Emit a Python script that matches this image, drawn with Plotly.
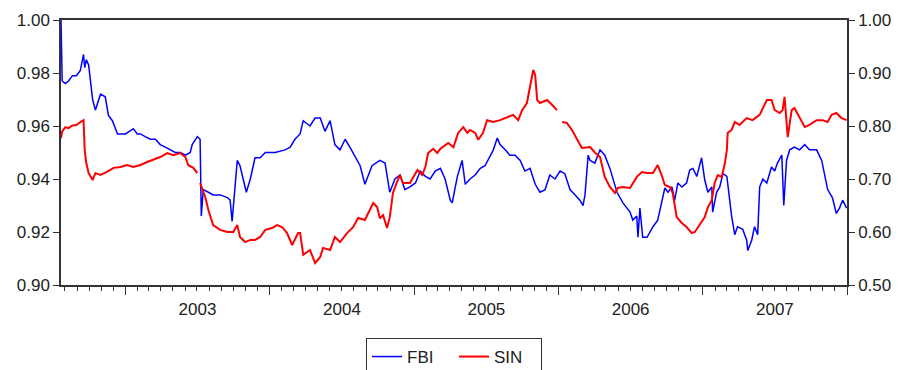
import plotly.graph_objects as go

fbi_dates = [
    "2002-07-22", "2002-07-25", "2002-08-02", "2002-08-10", "2002-08-20", "2002-08-30",
    "2002-09-09", "2002-09-17", "2002-09-20", "2002-09-24", "2002-09-30", "2002-10-05",
    "2002-10-10", "2002-10-17", "2002-10-23", "2002-10-30", "2002-11-11", "2002-11-19",
    "2002-11-29", "2002-12-12", "2002-12-22",
    "2003-01-01", "2003-01-11", "2003-01-21", "2003-01-31", "2003-02-08", "2003-02-20",
    "2003-03-05", "2003-03-18", "2003-03-30", "2003-04-12", "2003-04-25", "2003-05-07",
    "2003-05-20", "2003-06-02", "2003-06-14", "2003-06-19", "2003-07-02", "2003-07-09",
    "2003-07-12", "2003-07-17", "2003-07-30", "2003-08-11", "2003-08-29", "2003-09-16",
    "2003-09-23", "2003-09-28", "2003-10-11", "2003-10-18", "2003-10-26", "2003-11-03",
    "2003-11-13", "2003-11-25", "2003-12-08", "2003-12-21",
    "2004-01-15", "2004-02-09", "2004-02-22", "2004-03-05", "2004-03-18", "2004-03-26",
    "2004-04-12", "2004-04-25", "2004-05-08", "2004-05-20", "2004-06-02", "2004-06-14",
    "2004-06-27", "2004-07-10", "2004-07-22", "2004-08-17", "2004-08-29", "2004-09-16",
    "2004-10-06", "2004-10-19", "2004-10-31", "2004-11-13", "2004-11-26", "2004-12-08",
    "2004-12-21",
    "2005-01-04", "2005-01-16", "2005-01-29", "2005-02-10", "2005-02-23", "2005-03-08",
    "2005-03-20", "2005-04-02", "2005-04-07", "2005-04-20", "2005-05-02", "2005-05-10",
    "2005-05-22", "2005-06-04", "2005-06-17", "2005-06-29", "2005-07-12", "2005-07-20",
    "2005-07-30", "2005-08-06", "2005-08-19", "2005-08-31", "2005-09-13", "2005-09-26",
    "2005-10-08", "2005-10-21", "2005-11-03", "2005-11-15", "2005-11-28", "2005-12-10",
    "2005-12-23",
    "2006-01-05", "2006-01-17", "2006-01-30", "2006-02-12", "2006-02-24", "2006-03-04",
    "2006-03-09", "2006-03-17", "2006-03-22", "2006-04-03", "2006-04-16", "2006-04-28",
    "2006-05-11", "2006-05-29", "2006-06-13", "2006-07-01", "2006-07-08", "2006-07-18",
    "2006-07-21", "2006-07-26", "2006-08-02", "2006-08-13", "2006-08-28", "2006-09-09",
    "2006-09-19", "2006-09-27", "2006-10-05", "2006-10-15", "2006-10-22", "2006-10-30",
    "2006-11-09", "2006-11-21", "2006-11-29", "2006-12-07", "2006-12-17", "2006-12-29",
    "2007-01-06", "2007-01-14", "2007-01-24", "2007-01-26", "2007-02-05", "2007-02-13",
    "2007-02-21", "2007-03-03", "2007-03-15", "2007-03-23", "2007-03-30", "2007-04-12",
    "2007-04-22", "2007-04-25", "2007-05-05", "2007-05-12", "2007-05-20", "2007-05-25",
    "2007-06-02", "2007-06-12", "2007-06-24", "2007-07-02", "2007-07-09", "2007-07-20",
    "2007-07-25", "2007-08-01", "2007-08-09", "2007-08-21", "2007-09-03", "2007-09-16",
    "2007-09-28", "2007-10-16", "2007-10-29", "2007-11-13", "2007-11-25", "2007-12-05",
    "2007-12-13", "2007-12-21", "2007-12-31",
]
fbi_values = [
    1.000, 0.977, 0.976, 0.977, 0.979, 0.979,
    0.981, 0.987, 0.982, 0.985, 0.983, 0.975,
    0.970, 0.966, 0.969, 0.972, 0.971, 0.964,
    0.962, 0.957, 0.957,
    0.957, 0.958, 0.959, 0.957, 0.957, 0.956,
    0.955, 0.955, 0.953, 0.952, 0.951, 0.950,
    0.950, 0.949, 0.950, 0.953, 0.956, 0.955,
    0.926, 0.936, 0.935, 0.934, 0.934, 0.933,
    0.932, 0.924, 0.947, 0.945, 0.940, 0.935,
    0.940, 0.948, 0.948, 0.950,
    0.950, 0.951, 0.952, 0.955, 0.957, 0.962,
    0.960, 0.963, 0.963, 0.958, 0.962, 0.953,
    0.951, 0.955, 0.952, 0.945, 0.938, 0.945,
    0.947, 0.946, 0.935, 0.940, 0.9415, 0.936,
    0.937,
    0.9385, 0.943, 0.941, 0.940, 0.943, 0.944,
    0.940, 0.932, 0.931, 0.941, 0.947, 0.938,
    0.940, 0.9415, 0.944, 0.945, 0.949, 0.951,
    0.9555, 0.953, 0.951, 0.949, 0.949, 0.947,
    0.943, 0.944, 0.938, 0.935, 0.936, 0.9415,
    0.940,
    0.943, 0.942, 0.936, 0.934, 0.932, 0.930,
    0.934, 0.949, 0.947, 0.946, 0.951, 0.949,
    0.944, 0.935, 0.931, 0.9275, 0.9245, 0.926,
    0.918, 0.929, 0.918, 0.918, 0.922, 0.9245,
    0.932, 0.9366, 0.935, 0.937, 0.932, 0.9385,
    0.937, 0.9385, 0.9434, 0.944, 0.941, 0.948,
    0.9396, 0.935, 0.937, 0.9275, 0.935, 0.937,
    0.942, 0.941, 0.926, 0.919, 0.922, 0.921,
    0.917, 0.913, 0.917, 0.922, 0.919, 0.937,
    0.940, 0.9385, 0.9445, 0.943, 0.946, 0.949,
    0.930, 0.947, 0.951, 0.952, 0.951, 0.953,
    0.951, 0.951, 0.947, 0.936, 0.933, 0.927,
    0.929, 0.932, 0.929,
]

sin_dates = [
    "2002-07-22", "2002-07-25", "2002-08-02", "2002-08-10", "2002-08-20", "2002-08-30",
    "2002-09-09", "2002-09-17", "2002-09-20", "2002-09-24", "2002-09-30", "2002-10-10",
    "2002-10-17", "2002-10-30", "2002-11-14", "2002-12-02", "2002-12-19",
    "2003-01-05", "2003-01-21", "2003-02-08", "2003-02-25", "2003-03-12", "2003-03-30",
    "2003-04-17", "2003-05-02", "2003-05-20", "2003-06-02", "2003-06-09", "2003-06-22",
    "2003-07-02", "2003-07-05", "2003-07-09", "2003-07-22", "2003-07-30", "2003-08-11",
    "2003-08-29", "2003-09-16", "2003-10-01", "2003-10-11", "2003-10-18", "2003-10-31",
    "2003-11-13", "2003-11-25", "2003-12-08", "2003-12-21",
    "2004-01-07", "2004-01-20", "2004-02-02", "2004-02-14", "2004-02-27", "2004-03-05",
    "2004-03-13", "2004-03-18", "2004-03-26", "2004-04-12", "2004-04-25", "2004-05-08",
    "2004-05-15", "2004-06-02", "2004-06-14", "2004-06-27", "2004-07-15", "2004-07-30",
    "2004-08-12", "2004-08-29", "2004-09-11", "2004-09-19", "2004-09-29", "2004-10-06",
    "2004-10-14", "2004-10-24", "2004-10-31", "2004-11-08", "2004-11-18", "2004-11-26",
    "2004-12-03", "2004-12-21",
    "2005-01-09", "2005-01-21", "2005-01-29", "2005-02-05", "2005-02-18", "2005-02-28",
    "2005-03-08", "2005-03-28", "2005-04-10", "2005-04-22", "2005-05-05", "2005-05-15",
    "2005-05-22", "2005-06-04", "2005-06-12", "2005-06-24", "2005-07-04", "2005-07-20",
    "2005-08-06", "2005-08-24", "2005-09-08", "2005-09-21", "2005-10-01", "2005-10-13",
    "2005-10-23", "2005-10-29", "2005-11-03", "2005-11-08", "2005-11-15", "2005-12-03",
    "2005-12-16", "2005-12-28",
    "2006-01-03", "2006-01-10", "2006-01-22", "2006-02-04", "2006-02-17", "2006-03-01",
    "2006-03-22", "2006-04-03", "2006-04-16", "2006-04-28", "2006-05-11", "2006-05-24",
    "2006-05-31", "2006-06-13", "2006-07-01", "2006-07-08", "2006-07-18", "2006-07-31",
    "2006-08-13", "2006-08-28", "2006-09-09", "2006-09-19", "2006-09-27", "2006-10-10",
    "2006-10-17", "2006-10-27", "2006-11-09", "2006-11-21", "2006-12-04", "2006-12-12",
    "2006-12-24",
    "2007-01-06", "2007-01-14", "2007-01-24", "2007-01-31", "2007-02-08", "2007-02-18",
    "2007-02-26", "2007-03-03", "2007-03-05", "2007-03-15", "2007-03-23", "2007-04-04",
    "2007-04-22", "2007-05-07", "2007-05-25", "2007-06-12", "2007-06-24", "2007-07-02",
    "2007-07-15", "2007-07-22", "2007-07-27", "2007-08-04", "2007-08-14", "2007-08-21",
    "2007-09-03", "2007-09-16", "2007-09-28", "2007-10-16", "2007-10-31", "2007-11-13",
    "2007-11-23", "2007-12-05", "2007-12-18", "2007-12-31",
]
sin_values = [
    0.777, 0.790, 0.798, 0.796, 0.801, 0.802,
    0.8075, 0.811, 0.755, 0.730, 0.711, 0.698,
    0.711, 0.7075, 0.713, 0.721, 0.7226,
    0.7264, 0.7226, 0.7264, 0.732, 0.736, 0.7415,
    0.749, 0.745, 0.749, 0.741, 0.726, 0.721,
    0.711, None, 0.6925, 0.666, 0.6415, 0.613,
    0.604, 0.600, 0.600, 0.613, 0.5906, 0.581,
    0.585, 0.585, 0.5906, 0.604,
    0.6075, 0.613, 0.609, 0.598, 0.5755, 0.585,
    0.598, 0.598, 0.557, 0.566, 0.5415, 0.553,
    0.570, 0.566, 0.5906, 0.581, 0.598, 0.609,
    0.6264, 0.6226, 0.6415, 0.6547, 0.647, 0.626,
    0.632, 0.6075, 0.628, 0.6736, 0.694, 0.7075,
    0.6925, 0.6925,
    0.717, 0.7075, 0.7226, 0.749, 0.757, 0.749,
    0.757, 0.768, 0.760, 0.787, 0.798, 0.787,
    0.7925, 0.787, 0.774, 0.787, 0.811, 0.8075,
    0.811, 0.817, 0.821, 0.811, 0.830, 0.8434,
    0.887, 0.9057, 0.896, 0.849, 0.8434, 0.849,
    0.8396, 0.830,
    None, 0.8075, 0.806, 0.7925, 0.774, 0.7585,
    0.7604, 0.750, 0.7415, 0.704, 0.685, 0.6736,
    0.683, 0.685, 0.683, 0.6925, 0.704, 0.713,
    0.7113, 0.7113, 0.7264, 0.7075, 0.6887, 0.685,
    0.6736, 0.628, 0.617, 0.6094, 0.598, 0.600,
    0.613,
    0.628, 0.647, 0.660, 0.6925, 0.7075, 0.7038,
    0.730, 0.755, 0.787, 0.7925, 0.8075, 0.802,
    0.815, 0.811, 0.821, 0.849, 0.849, 0.830,
    0.8245, 0.830, 0.855, 0.779, 0.830, 0.834,
    0.817, 0.798, 0.802, 0.811, 0.811, 0.8075,
    0.821, 0.8245, 0.815, 0.811,
]

left_ticks = [0.90, 0.92, 0.94, 0.96, 0.98, 1.00]
right_ticks = [0.50, 0.60, 0.70, 0.80, 0.90, 1.00]
x_range = ["2002-07-22", "2008-01-01"]

FONT = "Liberation Sans, Arial, sans-serif"
AXC = "#333333"

fig = go.Figure()
fig.add_trace(go.Scatter(x=fbi_dates, y=fbi_values, name="FBI", mode="lines",
                         line=dict(color="#0000FF", width=1.5), yaxis="y"))
fig.add_trace(go.Scatter(x=sin_dates, y=sin_values, name="SIN", mode="lines",
                         line=dict(color="#FF0000", width=2), yaxis="y2",
                         connectgaps=False))

fig.update_layout(
    width=893, height=362,
    margin=dict(l=53, r=54, t=12, b=85, autoexpand=False),
    paper_bgcolor="white", plot_bgcolor="white",
    font=dict(family=FONT, size=17, color="#222222"),
    showlegend=True,
    legend=dict(orientation="h", x=0.5, xanchor="center", y=-0.2, yanchor="top",
                bordercolor=AXC, borderwidth=1, font=dict(size=17),
                itemwidth=30, entrywidth=42, entrywidthmode="pixels",
                tracegroupgap=0),
    xaxis=dict(
        type="date", range=x_range, showgrid=False, zeroline=False,
        showline=True, linecolor=AXC, linewidth=1.5, mirror=True,
        tick0="2003-01-01", dtick="M12", ticklabelmode="period", tickformat="%Y",
        ticks="outside", ticklen=8, tickcolor=AXC, tickwidth=1,
        minor=dict(dtick="M1", ticks="outside", ticklen=4, tickcolor=AXC, tickwidth=1, showgrid=False),
        tickfont=dict(size=17),
    ),
    yaxis=dict(
        range=[0.90, 1.00], tickvals=left_ticks, tickformat=".2f",
        showgrid=False, zeroline=False, showline=True, linecolor=AXC, linewidth=1.5,
        ticks="outside", ticklen=6, tickcolor=AXC, tickfont=dict(size=17),
    ),
    yaxis2=dict(
        range=[0.50, 1.00], tickvals=right_ticks, tickformat=".2f",
        overlaying="y", side="right", anchor="x",
        showgrid=False, zeroline=False, showline=True, linecolor=AXC, linewidth=1.5,
        ticks="outside", ticklen=6, tickcolor=AXC, tickfont=dict(size=17),
    ),
)

fig.write_html("out.html")
